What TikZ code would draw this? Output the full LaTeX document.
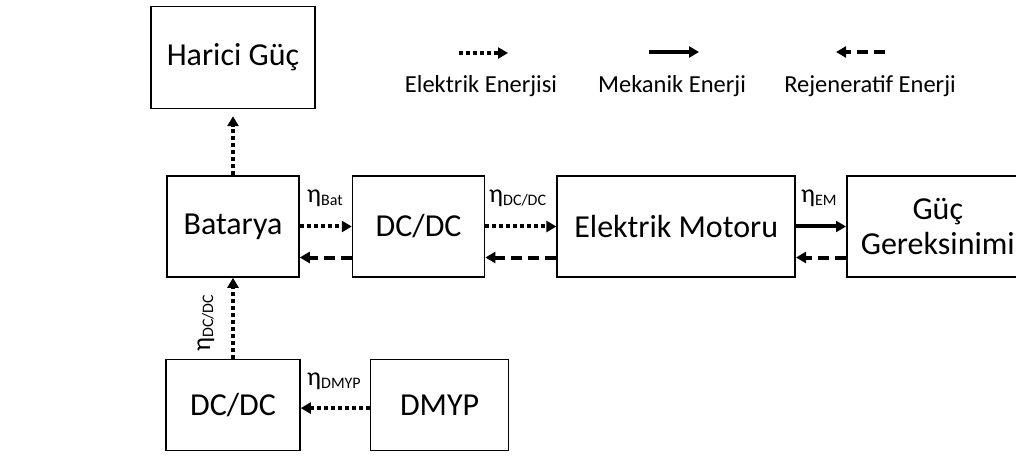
\documentclass[tikz,border=0pt]{standalone}
\usepackage{fontspec}
\setmainfont{Carlito}
\usepackage{graphicx}
\usetikzlibrary{arrows.meta,positioning}
\newcommand{\effsub}[1]{{\fontsize{26}{26}\selectfont η}\raisebox{-3pt}{\fontsize{16}{16}\selectfont #1}}

\begin{document}
\begin{tikzpicture}[
      x=1pt, y=-1pt,
      node distance=52pt,
      box/.style={draw, line width=1.6pt, align=center, inner sep=0pt, minimum width=132pt, minimum height=101pt, font=\fontsize{32}{35}\selectfont},
      lbl/.style={inner sep=0pt, font=\fontsize{24.5}{24.5}\selectfont},
      elec/.style={line width=4pt, dash pattern=on 4pt off 3pt, -{Triangle[length=10pt,width=11pt]}},
      mech/.style={line width=4pt, -{Triangle[length=10pt,width=11pt]}},
      regen/.style={line width=4pt, dash pattern=on 11pt off 6pt, -{Triangle[length=10pt,width=11pt]}}
    ]
      \useasboundingbox (0,0) rectangle (1016,462);
      \node[box] (bat) at (233,226.5) {Batarya};
      \node[box, right=of bat] (dc) {DC/DC};
      \node[box, minimum width=238pt, right=71pt of dc] (em) {Elektrik Motoru};
      \node[box, minimum width=182pt, right=50pt of em] (guc) {Güç\\Gereksinimi};
      \node[box, minimum width=164pt, minimum height=102pt, above=66pt of bat] (har) {Harici Güç};
      \node[box, minimum width=134pt, minimum height=91pt, below=81pt of bat] (dcb) {DC/DC};
      \node[box, minimum width=138pt, minimum height=91pt, right=69pt of dcb] (dmyp) {DMYP};
      \draw[elec] (bat) -- (dc);
      \draw[regen] ([yshift=-31pt]dc.west) -- ([yshift=-31pt]bat.east);
      \draw[elec] (dc) -- (em);
      \draw[regen] ([yshift=-31pt]em.west) -- ([yshift=-31pt]dc.east);
      \draw[mech] (em) -- (guc);
      \draw[regen] ([yshift=-31pt]guc.west) -- ([yshift=-31pt]em.east);
      \draw[elec, shorten >=7pt] (bat.north) -- (bat.north |- har.south);
      \draw[elec] (dcb.north) -- (dcb.north |- bat.south);
      \draw[elec] ([yshift=-3pt]dmyp.west) -- ([yshift=-3pt]dcb.east);
      \node[lbl, anchor=base west] (lbat) at (307,203) {\effsub{Bat}};
      \node[lbl, anchor=base west] (ldc) at (489,203) {\effsub{DC/DC}};
      \node[lbl, anchor=base west] (lem) at (801,203) {\effsub{EM}};
      \node[lbl, anchor=base west] (ldmyp) at (307,385) {\effsub{DMYP}};
      \node[lbl, anchor=base west, rotate=90] (ldcb) at (210,352) {\effsub{DC/DC}};
      \coordinate (e1) at (459,53);
      \coordinate (e2) at (508,53);
      \coordinate (m1) at (649,52);
      \coordinate (m2) at (699,52);
      \coordinate (r1) at (885,52);
      \coordinate (r2) at (836,52);
      \draw[elec] (e1) -- (e2);
      \draw[mech] (m1) -- (m2);
      \draw[regen] (r1) -- (r2);
      \node[lbl, anchor=base] (lelec) at (481,93) {Elektrik Enerjisi};
      \node[lbl, anchor=base] (lmech) at (672,93) {Mekanik Enerji};
      \node[lbl, anchor=base] (lregen) at (870,93) {Rejeneratif Enerji};
    \end{tikzpicture}
\end{document}
